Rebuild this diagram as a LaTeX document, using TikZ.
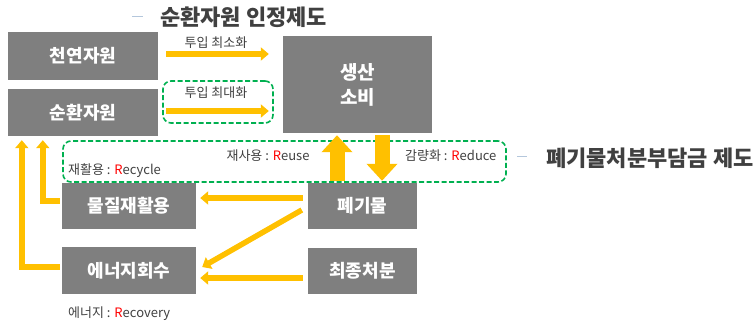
\documentclass[tikz,border=0pt]{standalone}
\usepackage{fontspec}
\setmainfont{Noto Sans CJK KR}
\usetikzlibrary{arrows.meta,calc}
\definecolor{boxgray}{HTML}{7F7F7F}
\definecolor{arrowyel}{HTML}{FFC000}
\definecolor{dgreen}{HTML}{00B050}
\definecolor{txtgray}{HTML}{404040}
\definecolor{rred}{HTML}{FF0000}
\definecolor{dashblue}{HTML}{B4C7DC}
\begin{document}
\begin{tikzpicture}[x=1pt,y=-1pt,
 box/.style={fill=boxgray, text=white, font=\bfseries\fontsize{18}{20}\selectfont, inner sep=0pt, align=center},
 yarrow/.style={draw=arrowyel, line width=5.5pt, line join=miter, -{Triangle[length=8pt,width=13pt]}},
 bigarrow/.style={draw=arrowyel, line width=15pt, -{Triangle[length=17pt,width=30pt]}},
 gdash/.style={draw=dgreen, line width=1.6pt, dash pattern=on 5pt off 2.5pt, rounded corners=8pt, inner sep=0pt},
 lbl/.style={text=txtgray, font=\fontsize{13}{15}\selectfont, inner sep=0pt},
 ttl/.style={text=txtgray, font=\bfseries\fontsize{22}{24}\selectfont, inner sep=0pt},
 tdash/.style={draw=dashblue, line width=1pt}
]
\useasboundingbox (0,0) rectangle (753,325);

% boxes
\node[box, minimum width=150pt, minimum height=48pt] (nat) at (83,56) {천연자원};
\node[box, minimum width=150pt, minimum height=47pt] (circ) at (83,112.5) {순환자원};
\node[box, minimum width=149pt, minimum height=97pt, font=\bfseries\fontsize{19}{25}\selectfont] (prod) at (357.5,84.5) {생산\\소비};
\node[box, minimum width=134pt, minimum height=46pt] (mat) at (129,206) {물질재활용};
\node[box, minimum width=134pt, minimum height=47pt] (ener) at (129,270.5) {에너지회수};
\node[box, minimum width=109pt, minimum height=46pt] (waste) at (362.5,206) {폐기물};
\node[box, minimum width=109pt, minimum height=46pt] (final) at (362.5,271) {최종처분};

% green dashed frames
\node[gdash, minimum width=110pt, minimum height=42pt] (g1) at (218,102) {};
\node[gdash, minimum width=443pt, minimum height=41pt] (g2) at (284.5,161.5) {};

% input arrows
\draw[yarrow] ($(nat.east)+(8,-2)$) -- ($(nat.east -| prod.west)+(-14,-2)$);
\draw[yarrow] ($(circ.east)+(8,-1.5)$) -- ($(circ.east -| prod.west)+(-14,-1.5)$);

% big arrows
\draw[bigarrow] ($(waste.north)+(-25.5,-2)$) -- ($(waste.north |- prod.south)+(-25.5,2)$);
\draw[bigarrow] ($(waste.north |- prod.south)+(19.5,2)$) -- ($(waste.north)+(19.5,-2)$);

% waste / final arrows
\draw[yarrow] ($(waste.west)+(-5,-8)$) -- ($(mat.east |- waste.west)+(4,-8)$);
\draw[yarrow] ($(waste.west)+(-6,4)$) -- ($(ener.east)+(6,-3.5)$);
\draw[yarrow] ($(final.west)+(-5,7)$) -- ($(ener.east)+(4,7.5)$);

% return arrows
\draw[yarrow] ($(mat.west)+(-2,-5)$) -| ($(circ.south west)+(35,4)$);
\draw[yarrow] ($(ener.west)+(-2,-3.5)$) -| ($(circ.south west)+(14,4)$);

% labels
\node[lbl] (l1) at (216,43) {투입 최소화};
\node[lbl] (l2) at (216,93) {투입 최대화};
\node[lbl] (reuse) at (268,156) {재사용 : {\color{rred}R}euse};
\node[lbl, anchor=west] (recyc) at (68,171) {재활용 : {\color{rred}R}ecycle};
\node[lbl, anchor=west] (reduce) at (405,156) {감량화 : {\color{rred}R}educe};
\node[lbl, anchor=west] (recov) at (68,314) {에너지 : {\color{rred}R}ecovery};

% titles
\node[ttl, anchor=west] (t1) at (160,17) {순환자원 인정제도};
\draw[tdash] ($(t1.west)+(-28,-1)$) -- ($(t1.west)+(-17,-1)$);
\node[ttl, anchor=west] (t2) at (546,158) {폐기물처분부담금 제도};
\draw[tdash] ($(t2.west)+(-29,-2)$) -- ($(t2.west)+(-19,-2)$);
\end{tikzpicture}
\end{document}
